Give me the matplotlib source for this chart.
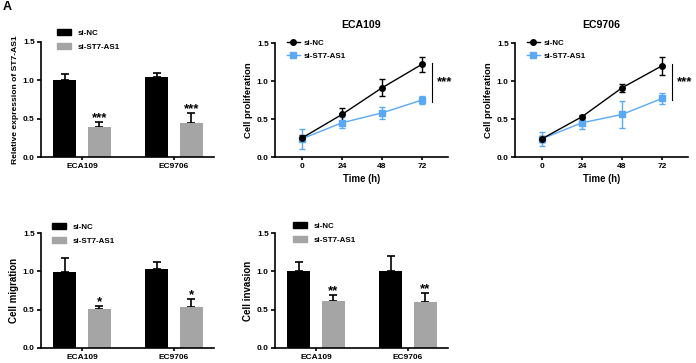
import matplotlib
matplotlib.use("Agg")
import matplotlib.pyplot as plt
from matplotlib.patches import Patch
from matplotlib.lines import Line2D

plt.rcParams['font.family'] = ['Liberation Sans', 'DejaVu Sans']
plt.rcParams['font.weight'] = 'bold'
plt.rcParams['axes.labelweight'] = 'bold'
plt.rcParams['axes.titleweight'] = 'bold'

W, H = 696, 363

cells = ["ECA109", "EC9706"]
groups = ["si-NC", "si-ST7-AS1"]

# bar panels: mean and error per group
expr_nc = [1.00, 1.05]
expr_nc_err = [0.08, 0.05]
expr_si = [0.39, 0.44]
expr_si_err = [0.07, 0.13]

migr_nc = [0.99, 1.03]
migr_nc_err = [0.18, 0.09]
migr_si = [0.51, 0.53]
migr_si_err = [0.04, 0.11]

inv_nc = [1.01, 1.00]
inv_nc_err = [0.11, 0.20]
inv_si = [0.61, 0.60]
inv_si_err = [0.08, 0.12]

# line panels
hours = [0, 24, 48, 72]
eca_nc = [0.25, 0.56, 0.91, 1.22]
eca_nc_err = [0.04, 0.08, 0.11, 0.10]
eca_si = [0.24, 0.45, 0.58, 0.75]
eca_si_err = [0.13, 0.07, 0.08, 0.05]

ec_nc = [0.24, 0.53, 0.91, 1.20]
ec_nc_err = [0.04, 0.02, 0.05, 0.12]
ec_si = [0.24, 0.45, 0.56, 0.77]
ec_si_err = [0.09, 0.08, 0.18, 0.07]

BLUE = '#5aa9f6'
GRAY = '#a5a5a5'


def px_axes(fig, l, t, r, b):
    return fig.add_axes([l / W, 1 - b / H, (r - l) / W, (b - t) / H])


def style(ax):
    for s in ['top', 'right']:
        ax.spines[s].set_visible(False)
    for s in ['left', 'bottom']:
        ax.spines[s].set_linewidth(1.2)
    ax.tick_params(width=1.2, length=3, labelsize=6, pad=1.5)
    ax.tick_params(axis='x', length=2.5, pad=1.5)
    ax.set_ylim(0, 1.5)
    ax.set_yticks([0, 0.5, 1.0, 1.5])
    ax.set_yticklabels(["0.0", "0.5", "1.0", "1.5"])


def bar_panel(fig, rect, nc, nc_err, si, si_err, stars, ylabel, ysize, leg_anchor):
    ax = px_axes(fig, *rect)
    style(ax)
    x = [0, 1]
    off, w = 0.19, 0.25
    ax.bar([i - off for i in x], nc, width=w, color='black', zorder=2)
    ax.bar([i + off for i in x], si, width=w, color=GRAY, zorder=2)
    ax.errorbar([i - off for i in x], nc, yerr=[[0, 0], nc_err], fmt='none',
                ecolor='black', elinewidth=1.2, capsize=3, capthick=1.2, zorder=1)
    ax.errorbar([i + off for i in x], si, yerr=[[0, 0], si_err], fmt='none',
                ecolor='black', elinewidth=1.2, capsize=3, capthick=1.2, zorder=1)
    for i in x:
        ax.annotate(stars, (i + off, si[i] + si_err[i]), xytext=(0, -1.5),
                    textcoords='offset points', ha='center', va='bottom',
                    fontsize=9.5, fontweight='bold')
    ax.set_xlim(-0.446, 1.435)
    ax.set_xticks(x)
    ax.set_xticklabels(cells)
    ax.set_ylabel(ylabel, fontsize=ysize, labelpad=3)
    handles = [Patch(color='black'), Patch(color=GRAY)]
    fig.legend(handles, groups, loc='upper left',
               bbox_to_anchor=(leg_anchor[0] / W, 1 - leg_anchor[1] / H),
               frameon=False, fontsize=5.7, handlelength=1.8, handleheight=0.75,
               handletextpad=0.75, labelspacing=0.85, borderpad=0, borderaxespad=0)
    return ax


def line_panel(fig, rect, title, nc, nc_err, si, si_err, leg_anchor):
    ax = px_axes(fig, *rect)
    style(ax)
    ax.errorbar(hours, si, yerr=si_err, color=BLUE, marker='s', markersize=4,
                lw=1, elinewidth=1, capsize=2.5, capthick=1)
    ax.errorbar(hours, nc, yerr=nc_err, color='black', marker='o', markersize=4,
                lw=1, elinewidth=1, capsize=2.5, capthick=1)
    ax.set_xlim(-16.2, 87.6)
    ax.set_xticks(hours)
    ax.set_xlabel("Time (h)", fontsize=6.9, labelpad=3)
    ax.set_ylabel("Cell proliferation", fontsize=6.8, labelpad=3)
    ax.set_title(title, fontsize=7.6, pad=11)
    ax.plot([78, 78], [si[-1] - 0.02, nc[-1] + 0.02], color='black', lw=0.8, clip_on=False)
    ax.text(85.8, (si[-1] + nc[-1]) / 2, "***", ha='center', va='center',
            fontsize=9.5, fontweight='bold', clip_on=False)
    handles = [Line2D([], [], color='black', marker='o', markersize=4, lw=1),
               Line2D([], [], color=BLUE, marker='s', markersize=4, lw=1)]
    fig.legend(handles, groups, loc='upper left',
               bbox_to_anchor=(leg_anchor[0] / W, 1 - leg_anchor[1] / H),
               frameon=False, fontsize=5.7, handlelength=1.6,
               handletextpad=0.5, labelspacing=0.75, borderpad=0, borderaxespad=0)
    return ax


fig = plt.figure(figsize=(W / 100, H / 100), dpi=100)

bar_panel(fig, (41, 42, 214, 157), expr_nc, expr_nc_err, expr_si, expr_si_err,
          "***", "Relative expression of ST7-AS1", 6.1, (57, 29))
line_panel(fig, (275, 43, 448, 157), "ECA109", eca_nc, eca_nc_err,
           eca_si, eca_si_err, (287, 39))
line_panel(fig, (515, 43, 688, 157), "EC9706", ec_nc, ec_nc_err,
           ec_si, ec_si_err, (527, 39))
bar_panel(fig, (41, 233, 214, 348), migr_nc, migr_nc_err, migr_si, migr_si_err,
          "*", "Cell migration", 7.0, (52, 223))
bar_panel(fig, (275, 233, 448, 348), inv_nc, inv_nc_err, inv_si, inv_si_err,
          "**", "Cell invasion", 7.0, (293, 222))

fig.text(3 / W, 1 - 1 / H, "A", fontsize=9, fontweight='bold', va='top', ha='left')

fig.savefig("out.png", dpi=100)
